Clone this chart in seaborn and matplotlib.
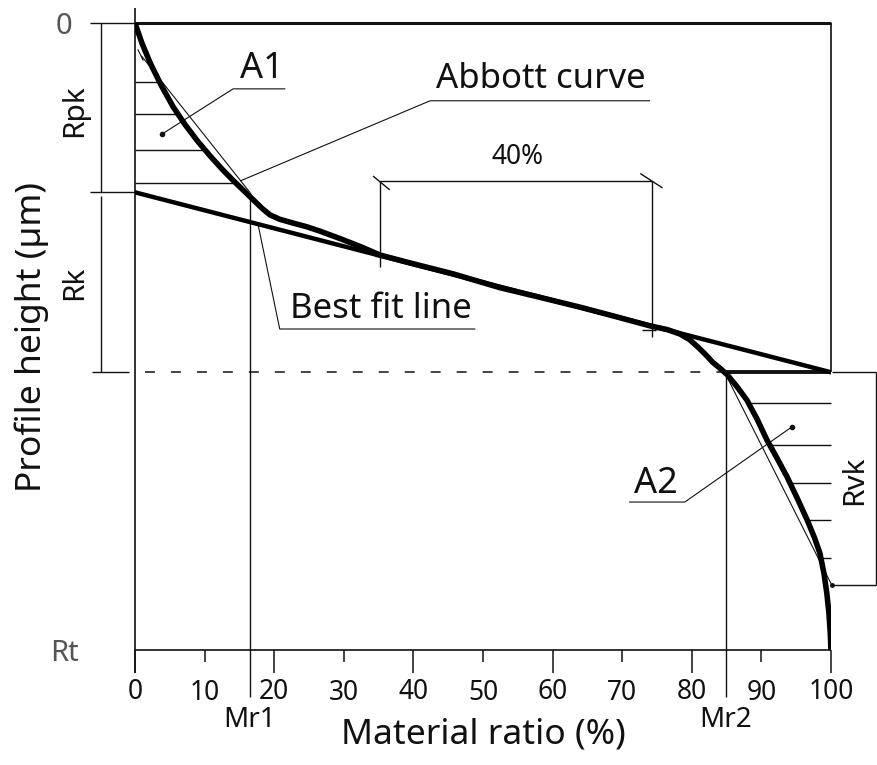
import numpy as np
import pandas as pd
import matplotlib
matplotlib.use("Agg")
import matplotlib.pyplot as plt
import seaborn as sns

# Abbott-Firestone (bearing area) curve: material ratio (%) vs. depth below the highest peak
abbott_mr = [0.0, 1.0, 2.2, 3.8, 5.5, 7.2, 8.9, 10.8, 12.6, 14.1, 15.5, 17.0, 18.3,
             19.4, 20.8, 22.7, 24.7, 26.6, 29.5, 32.5, 35.2, 40.0, 45.7, 52.4, 58.0,
             63.9, 69.0, 74.0, 76.5, 78.3, 79.7, 80.9, 82.0, 83.0, 84.1, 85.1,
             86.5, 87.9, 89.4, 90.8, 92.3, 93.7, 95.2, 96.6, 97.6, 98.4, 99.0,
             99.4, 99.7, 99.9, 100.0]
abbott_depth = [0.0, 3.2, 6.4, 10.0, 13.4, 16.2, 18.7, 21.2, 23.4, 25.1, 26.6, 28.2,
                29.6, 30.6, 31.3, 31.9, 32.5, 33.2, 34.4, 35.7, 37.0, 38.4, 40.0, 42.2,
                43.7, 45.3, 46.8, 48.3, 48.9, 49.6, 50.5, 51.7, 52.9, 54.1, 55.1,
                56.1, 58.0, 60.1, 63.2, 66.5, 69.5, 72.4, 75.9, 79.3, 82.0, 84.5,
                87.8, 90.9, 94.0, 97.3, 100.0]

# Best fit line through the 40 % window of the core
fit_mr = [0.0, 100.0]
fit_depth = [27.0, 55.7]

# Characteristic levels (depth, Rt = 100) and material ratios
rpk_level = 27.0
rk_level = 55.7
rvk_level = 89.6
rt_level = 100.0
mr1 = 16.5
mr2 = 84.9
window = [35.2, 74.3]

# Hatch depths inside the peak (A1) and valley (A2) areas
a1_hatch = [9.4, 14.5, 20.3, 25.5]
a2_hatch = [60.6, 67.3, 73.4, 79.3, 85.3]

major_ticks = [0, 20, 40, 60, 80, 100]
minor_ticks = [10, 30, 50, 70, 90]

sns.set_theme(style="white")
plt.rcParams["font.family"] = ["Noto Sans", "DejaVu Sans"]

fig = plt.figure(figsize=(8.77, 7.65), dpi=100)
ax = fig.add_axes([0.1539, 0.1503, 0.7936, 0.8196])
ax.set_xlim(0, 100)
ax.set_ylim(100, 0)
for s in ax.spines.values():
    s.set_visible(False)

ink = "#111111"
thin = 1.0

def seg(xs, ys, lw=thin, color=ink, **kw):
    ax.plot(xs, ys, color=color, lw=lw, clip_on=False, solid_capstyle="butt", **kw)

# Frame: thick top line, left axis, bottom axis, right edge down to Rk
seg([0, 100], [0, 0], lw=2.2)
seg([0, 0], [-2.4, 103.6], lw=1.2)
seg([0, 100], [100, 100], lw=1.2)
seg([100, 100], [0, rk_level], lw=1.2)

# Curves
curve = pd.DataFrame({"mr": abbott_mr, "depth": abbott_depth})
fit = pd.DataFrame({"mr": fit_mr, "depth": fit_depth})
sns.lineplot(data=fit, x="mr", y="depth", color="black", lw=3.2, estimator=None,
             sort=False, ax=ax, zorder=5)
sns.lineplot(data=curve, x="mr", y="depth", color="black", lw=4.0, estimator=None,
             sort=False, ax=ax, zorder=6)

# Equivalent triangles (thin hypotenuses)
seg([0.4, 1.2], [4.2, 6.0], lw=0.8)
seg([0.9, mr1], [5.2, rpk_level], lw=0.8)
seg([mr2, 100.1], [56.1, rvk_level], lw=0.8)
ax.plot([100.1], [rvk_level], "o", color=ink, ms=2.5, clip_on=False)

# Hatching of A1 and A2
for d in a1_hatch:
    x_end = np.interp(d, abbott_depth, abbott_mr)
    seg([0, x_end], [d, d])
for d in a2_hatch:
    x_start = np.interp(d, abbott_depth, abbott_mr)
    seg([x_start, 100], [d, d])

# Thick base of the valley triangle
seg([mr2, 100], [rk_level, rk_level], lw=2.8)

# Rk lower level (dashed)
ax.plot([1.4, 100], [rk_level, rk_level], color=ink, lw=1.1,
        dashes=(6.5, 10.5), clip_on=False)

# Mr1 / Mr2 verticals
seg([mr1, mr1], [rpk_level, 107.5])
seg([mr2, mr2], [rk_level, 107.5])

# Left dimension brackets (Rpk, Rk)
seg([-4.9, -4.9], [0, rpk_level])
seg([-4.9, -4.9], [rpk_level + 0.6, rk_level])
seg([-6.5, 0], [0, 0])
seg([-6.5, 0], [rpk_level, rpk_level])
seg([-6.2, -0.9], [rk_level, rk_level])

# Right dimension bracket (Rvk)
seg([100.1, 106.5], [rk_level, rk_level])
seg([106.5, 106.5], [rk_level, rvk_level])
seg([100.5, 106.5], [rvk_level, rvk_level])

# 40 % window bracket
seg(window, [25.2, 25.2])
seg([window[0], window[0]], [25.2, 38.9])
seg([window[1], window[1]], [25.2, 50.1])
seg([window[0] - 1.0, window[0] + 1.4], [24.4, 26.6])
seg([window[1] - 1.7, window[1] + 1.5], [24.0, 26.3])
seg([window[0] - 0.7, window[0] + 1.8], [37.2, 37.2])
seg([window[1] - 1.5, window[1] + 0.6], [48.9, 48.9])

# Leader lines
seg([3.9, 14.1, 21.6], [17.7, 10.5, 10.5], lw=0.8)
ax.plot([3.9], [17.7], "o", color=ink, ms=3, clip_on=False)
seg([15.1, 42.4, 74.0], [25.2, 12.4, 12.4], lw=0.8)
seg([17.7, 20.8, 48.9], [32.2, 48.8, 48.8], lw=0.8)
seg([94.4, 79.0, 71.0], [64.4, 76.4, 76.4], lw=0.8)
ax.plot([94.4], [64.4], "o", color=ink, ms=3, clip_on=False)

# Labels
txt = dict(color=ink, ha="center", va="center", clip_on=False)
ax.text(18.2, 7.3, "A1", fontsize=26, **txt)
ax.text(58.3, 8.9, "Abbott curve", fontsize=25, **txt)
ax.text(55.0, 21.3, "40%", fontsize=19, **txt)
ax.text(35.3, 45.6, "Best fit line", fontsize=25, **txt)
ax.text(74.9, 73.5, "A2", fontsize=26, **txt)
ax.text(-8.6, 14.0, "Rpk", fontsize=21.5, rotation=90, **txt)
ax.text(-8.6, 41.5, "Rk", fontsize=21.5, rotation=90, **txt)
ax.text(103.4, 72.9, "Rvk", fontsize=21.5, rotation=90, **txt)
ax.text(mr1, 111.2, "Mr1", fontsize=20, **txt)
ax.text(mr2, 111.2, "Mr2", fontsize=20, **txt)

# Axes ticks
ax.set_xticks(major_ticks, [str(t) for t in major_ticks])
ax.set_xticks(minor_ticks, [str(t) for t in minor_ticks], minor=True)
ax.tick_params(axis="x", which="major", bottom=True, length=16.5, width=1.1,
               pad=4, labelsize=19, colors=ink, direction="out")
ax.tick_params(axis="x", which="minor", bottom=True, length=8.6, width=1.1,
               pad=12, labelsize=19, colors=ink, direction="out")
ax.set_yticks([0, rt_level], ["0", "Rt"])
ax.tick_params(axis="y", length=0, pad=51, labelsize=21, colors="#555555")
for lab in ax.get_yticklabels():
    lab.set_horizontalalignment("center")

ax.set_xlabel("Material ratio (%)", fontsize=25.5, color=ink)
ax.xaxis.set_label_coords(0.5, -0.108)
ax.set_ylabel("Profile height (µm)", fontsize=25.5, color=ink)
ax.yaxis.set_label_coords(-0.124, 0.5)
ax.grid(False)

fig.savefig("out.png", dpi=100)
